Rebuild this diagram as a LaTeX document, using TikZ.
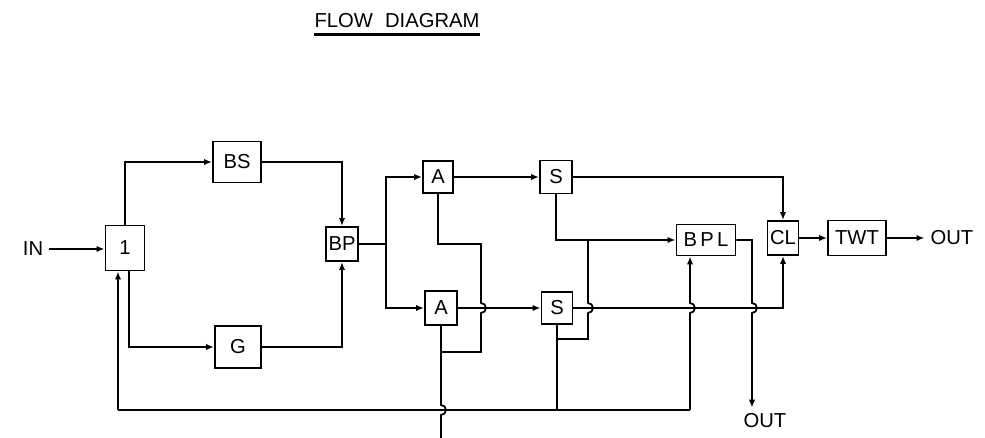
\documentclass[tikz,border=0pt]{standalone}
\usepackage{fontspec}
\setsansfont{Liberation Sans}
\usetikzlibrary{arrows.meta}

\begin{document}
\begin{tikzpicture}[x=0.02cm, y=-0.02cm, >={Latex[length=4.5pt,width=3.6pt]},
    block/.style={draw, line width=1.1pt, inner sep=0pt, font=\sffamily\fontsize{11.5}{13}\selectfont},
    wire/.style={line width=1pt},
    label/.style={font=\sffamily\fontsize{11.5}{13}\selectfont}]

    % Define bump radius
    \def\hop{5}

    % Fix the page size
    \useasboundingbox (0,0) rectangle (985,438);

    % Title
    \node[label, inner sep=0pt] (title) at (397,21) {FLOW\hspace{0.6em}DIAGRAM};
    \draw[line width=1.6pt] ([yshift=-0.12cm]title.south west) -- ([yshift=-0.12cm]title.south east);

    % Draw the blocks
    \node[block, minimum width=0.78cm, minimum height=0.9cm] (I) at (125,248) {1};
    \node[block, minimum width=0.96cm, minimum height=0.82cm] (BS) at (237,162) {BS};
    \node[block, minimum width=0.92cm, minimum height=0.84cm] (G) at (238,347) {G};
    \node[block, minimum width=0.64cm, minimum height=0.68cm] (BP) at (342,244) {BP};
    \node[block, minimum width=0.60cm, minimum height=0.64cm] (A1) at (438,177) {A};
    \node[block, minimum width=0.64cm, minimum height=0.68cm] (A2) at (441,308) {A};
    \node[block, minimum width=0.64cm, minimum height=0.66cm] (S1) at (556,177) {S};
    \node[block, minimum width=0.62cm, minimum height=0.64cm] (S2) at (557,308) {S};
    \node[block, minimum width=1.18cm, minimum height=0.62cm] (BPL) at (706,240) {B\,P\,L};
    \node[block, minimum width=0.62cm, minimum height=0.68cm] (CL) at (783,238) {CL};
    \node[block, minimum width=1.16cm, minimum height=0.70cm] (TWT) at (857,238) {TWT};

    % Input and output labels
    \node[label] (in) at (33,249) {IN};
    \node[label] (out1) at (765,421) {OUT};
    \node[label] (out2) at (952,238) {OUT};

    % Define junction points
    \coordinate (Iout) at (129,347);
    \coordinate (busL) at (118,410);
    \coordinate (busR) at (690,410);
    \coordinate (split) at (386,244);
    \coordinate (Ajoin) at (481,244);
    \coordinate (Adown) at (441,352);
    \coordinate (Sloop) at (557,339);
    \coordinate (Sjoin) at (588,240);
    \coordinate (bplOut) at (752,240);

    % Input to 1
    \draw[wire,->] (in.east) -- (in.east -| I.west);

    % 1 to BS and G, then to BP
    \draw[wire,->] (I.north) |- (BS.west);
    \draw[wire,->] (BS.east) -| (BP.north);
    \draw[wire,->] (Iout |- I.south) |- (G.west);
    \draw[wire,->] (G.east) -| (BP.south);

    % Feedback bus along the bottom
    \draw[wire,->] (busL) -- (busL |- I.south);
    \draw[wire] (busL) -- (busR);
    \draw[wire,->] (busR) -- (690,313) arc[start angle=90, end angle=-90, radius=\hop] -- (busR |- BPL.south);

    % BP to both A blocks
    \draw[wire] (BP.east) -- (split);
    \draw[wire,->] (split) |- (A1.west);
    \draw[wire,->] (split) |- (A2.west);

    % A blocks to S blocks
    \draw[wire,->] (A1.east) -- (S1.west);
    \draw[wire,->] (A2.east) -- (S2.west);

    % A blocks downwards
    \draw[wire] (A1.south) |- (Ajoin) -- (481,303) arc[start angle=-90, end angle=90, radius=\hop] -- (481,352) -- (Adown);
    \draw[wire] (A2.south) -- (441,405) arc[start angle=-90, end angle=90, radius=\hop] -- (441,438);

    % S blocks to BPL and CL
    \draw[wire,->] (S1.south) |- (BPL.west);
    \draw[wire] (S2.south) -- (S2.south |- busL);
    \draw[wire] (Sloop) -| (588,313) arc[start angle=90, end angle=-90, radius=\hop] -- (Sjoin);
    \draw[wire,->] (S1.east) -| (CL.north);
    \draw[wire,->] (S2.east) -| (CL.south);

    % BPL output
    \draw[wire,->] (BPL.east) -- (bplOut) -- (752,303) arc[start angle=-90, end angle=90, radius=\hop] -- (bplOut |- out1.north);

    % CL to TWT to output
    \draw[wire,->] (CL.east) -- (TWT.west);
    \draw[wire,->] (TWT.east) -- (out2.west);

\end{tikzpicture}
\end{document}
